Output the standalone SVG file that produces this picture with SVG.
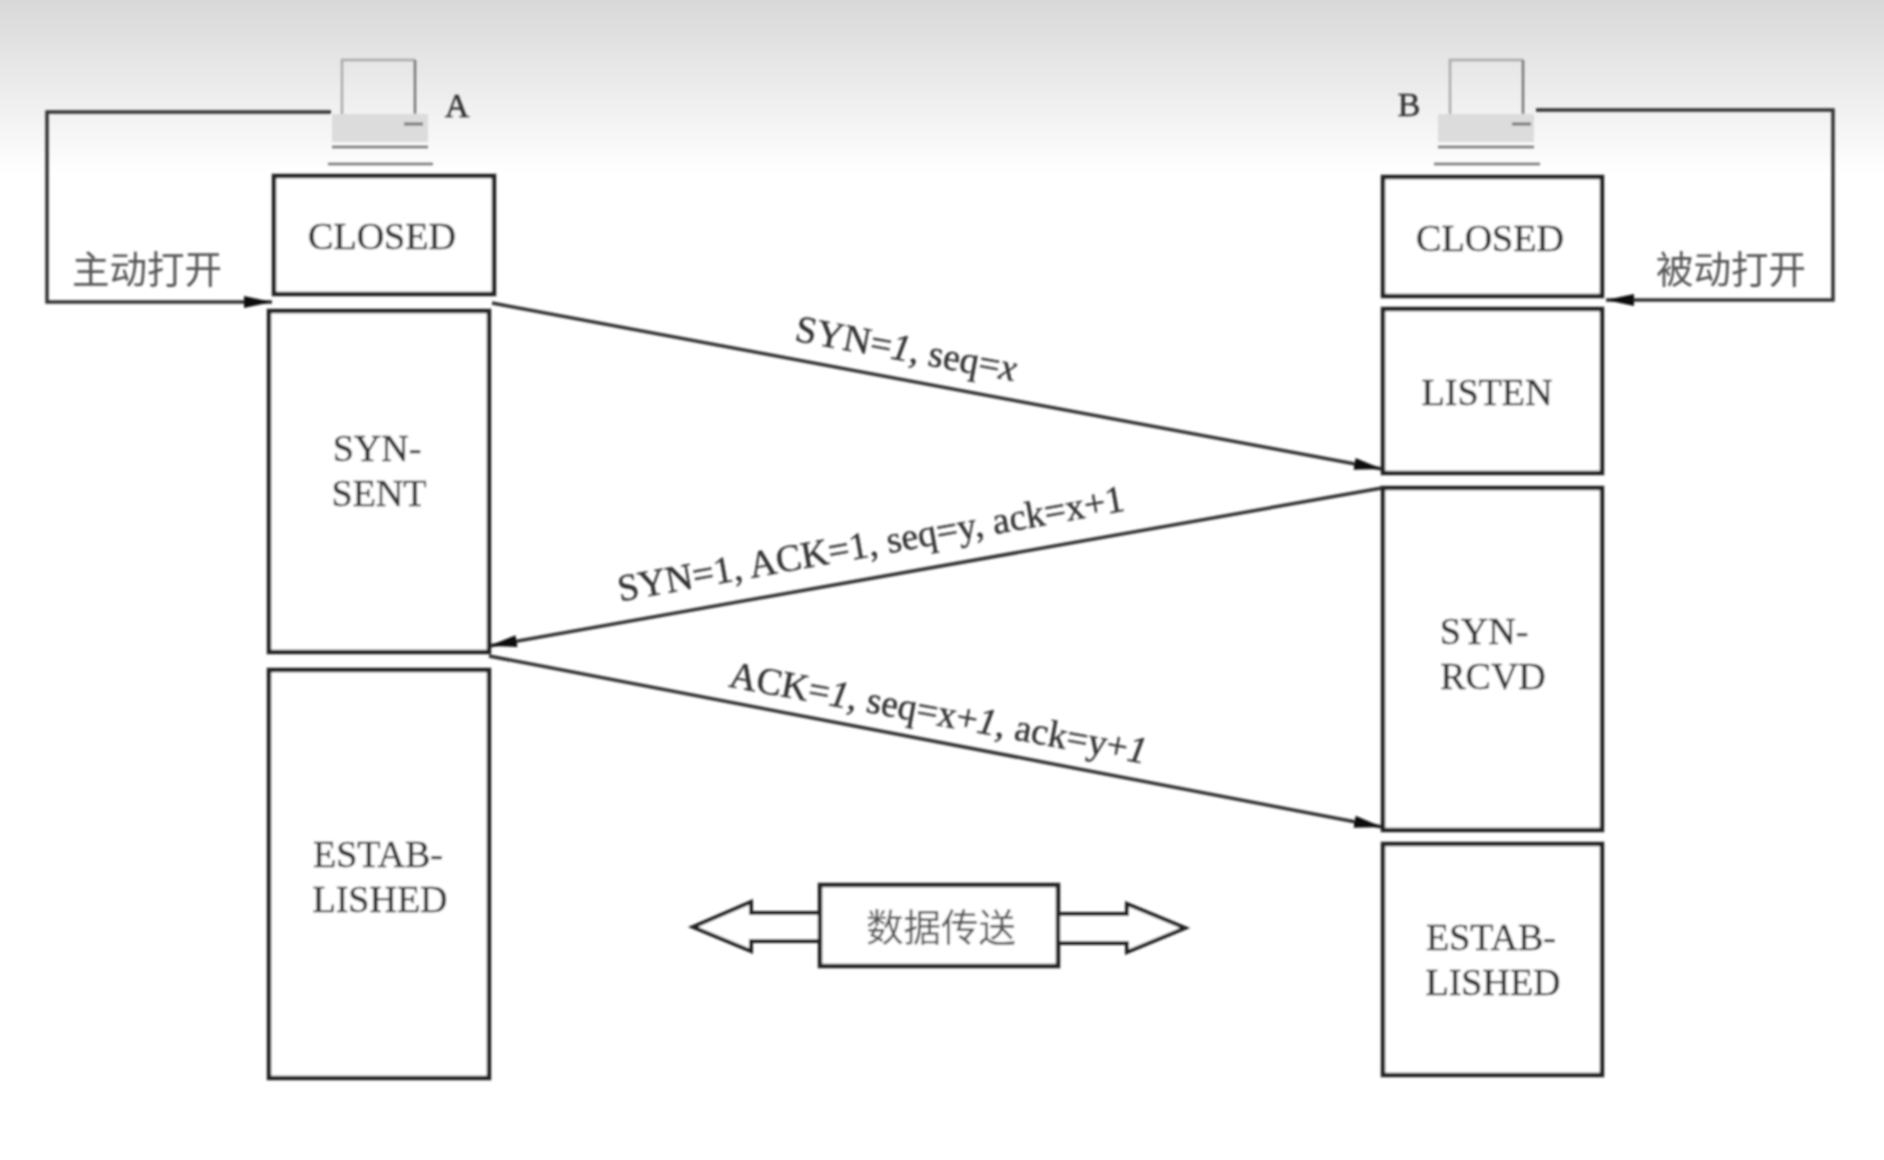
<svg xmlns="http://www.w3.org/2000/svg" width="1884" height="1160" viewBox="0 0 1884 1160">
<defs>
<linearGradient id="bg" x1="0" y1="0" x2="0" y2="1"><stop offset="0" stop-color="#d8d8d8"/><stop offset="0.5" stop-color="#ececec"/><stop offset="1" stop-color="#ffffff"/></linearGradient>
<filter id="soft" x="-5%" y="-5%" width="110%" height="110%"><feGaussianBlur stdDeviation="0.9"/></filter>
<marker id="ah" markerUnits="userSpaceOnUse" markerWidth="30" markerHeight="14" refX="28" refY="7" orient="auto"><path d="M0 1 L28 7 L0 13 Z" fill="#111"/></marker>
</defs>
<style>
.box{fill:#fff;stroke:#222;stroke-width:4.5}
.ln{fill:none;stroke:#333;stroke-width:3.5}
.t{font-family:"Liberation Serif","Noto Sans CJK SC",serif;font-size:38px;fill:#333;stroke:#333;stroke-width:.5;text-anchor:middle}
.c{font-family:"Noto Sans CJK SC","Liberation Serif",serif;font-size:37.5px;fill:#555;text-anchor:middle}
.m{font-family:"Liberation Serif",serif;font-size:38px;fill:#333;stroke:#333;stroke-width:.4;text-anchor:middle}
.ic{fill:none;stroke:#777;stroke-width:2.5}
.sc{fill:none;stroke:#aaa;stroke-width:2.5}
.it{font-style:italic}
</style>
<rect width="1884" height="175" fill="url(#bg)"/>
<rect y="175" width="1884" height="985" fill="#fff"/>
<g filter="url(#soft)">
<g id="connectors">
<path class="ln" d="M331 112 H47 V302 H272" marker-end="url(#ah)"/>
<path class="ln" d="M1536 110 H1833 V300 H1606" marker-end="url(#ah)"/>
<path class="ln" d="M492 303 L1382 469" marker-end="url(#ah)"/>
<path class="ln" d="M1382 488 L489 646" marker-end="url(#ah)"/>
<path class="ln" d="M489 656 L1382 827" marker-end="url(#ah)"/>
</g>
<g id="pc-a">
<path class="sc" d="M342 114 V60 H415"/>
<path class="ic" d="M415 60 V114"/>
<rect x="332" y="114" width="96" height="28" fill="#dcdcdc"/>
<path class="ic" d="M332 147 H428 M328 164 H433"/>
<path d="M404 124 H423" stroke="#777" stroke-width="3"/>
<text class="t" x="457" y="117" style="font-size:34px">A</text>
</g>
<g id="pc-b">
<path class="sc" d="M1450 114 V60 H1523"/>
<path class="ic" d="M1523 60 V114"/>
<rect x="1438" y="114" width="96" height="28" fill="#dcdcdc"/>
<path class="ic" d="M1438 147 H1534 M1434 164 H1540"/>
<path d="M1512 124 H1531" stroke="#777" stroke-width="3"/>
<text class="t" x="1409" y="116" style="font-size:34px">B</text>
</g>
<g id="a-closed"><rect class="box" x="274" y="176" width="220" height="118"/><text class="t" x="382" y="249">CLOSED</text></g>
<g id="a-syn-sent"><rect class="box" x="269" y="311" width="220" height="341"/><text class="t" x="377" y="461">SYN-</text><text class="t" x="379" y="506">SENT</text></g>
<g id="a-established"><rect class="box" x="269" y="670" width="220" height="408"/><text class="t" x="378" y="867">ESTAB-</text><text class="t" x="380" y="912">LISHED</text></g>
<g id="b-closed"><rect class="box" x="1383" y="177" width="219" height="119"/><text class="t" x="1490" y="251">CLOSED</text></g>
<g id="b-listen"><rect class="box" x="1383" y="309" width="219" height="164"/><text class="t" x="1487" y="405">LISTEN</text></g>
<g id="b-syn-rcvd"><rect class="box" x="1383" y="488" width="219" height="342"/><text class="t" x="1484" y="644">SYN-</text><text class="t" x="1493" y="689">RCVD</text></g>
<g id="b-established"><rect class="box" x="1383" y="844" width="219" height="231"/><text class="t" x="1491" y="950">ESTAB-</text><text class="t" x="1493" y="995">LISHED</text></g>
<g id="data">
<path class="box" d="M819 913 H751 V902 L693 927 L751 951 V941 H819" style="stroke-width:4"/>
<path class="box" d="M1058 914 H1127 V904 L1185 928 L1127 952 V943 H1058" style="stroke-width:4"/>
<rect class="box" x="820" y="885" width="238" height="81"/>
<text class="c" x="941" y="941">数据传送</text>
</g>
<g id="labels">
<text class="c" x="147" y="283">主动打开</text>
<text class="c" x="1731" y="283">被动打开</text>
<text class="m" transform="translate(904 361) rotate(10.5)">SYN=<tspan class="it">1</tspan>, seq=<tspan class="it">x</tspan></text>
<text class="m" transform="translate(873 556) rotate(-10.2)">SYN=1, ACK=1, seq=y, ack=x+1</text>
<text class="m" transform="translate(936 725) rotate(10.5)">ACK=<tspan class="it">1</tspan>, seq=x+<tspan class="it">1</tspan>, ack=y+<tspan class="it">1</tspan></text>
</g>
</g>
</svg>
